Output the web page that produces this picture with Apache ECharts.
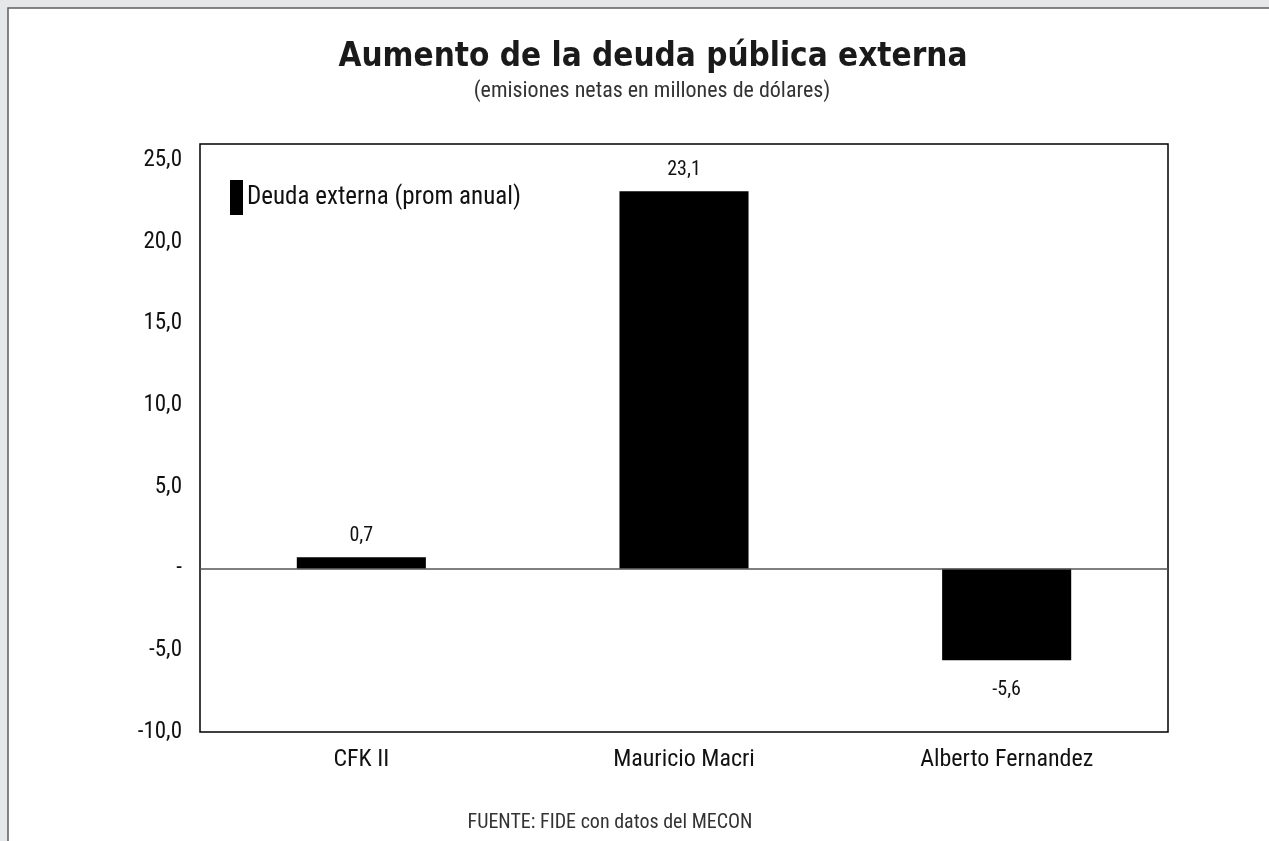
<!DOCTYPE html>
<html>
<head>
<meta charset="utf-8">
<script src="https://cdn.jsdelivr.net/npm/echarts@6/dist/echarts.min.js"></script>
<style>
  html, body { margin: 0; padding: 0; background: #e6e7e8; }
  #chart { width: 1269px; height: 841px; }
</style>
</head>
<body>
<div id="chart"></div>
<script>
// Aumento de la deuda pública externa, promedio anual por gestión
const categories = ['CFK II', 'Mauricio Macri', 'Alberto Fernandez'];
const values = [0.7, 23.1, -5.6];
const seriesName = 'Deuda externa (prom anual)';
const yMin = -10;
const yMax = 26;
const yStep = 5;

const NARROW = '"Liberation Sans Narrow", "Arial Narrow", "Roboto Condensed", "Liberation Sans", sans-serif';

function fmt(v) {
  if (v === 0) return '-';
  return v.toFixed(1).replace('.', ',');
}

const chart = echarts.init(document.getElementById('chart'), null, { renderer: 'canvas' });

chart.setOption({
  backgroundColor: '#e6e7e8',
  animation: false,
  graphic: [
    {
      type: 'rect', z: -10, silent: true,
      shape: { x: 8, y: 8, width: 1400, height: 1000 },
      style: { fill: '#ffffff', stroke: '#5e5e5e', lineWidth: 1.5 }
    },
    {
      type: 'text', x: 653, y: 57,
      style: {
        text: 'Aumento de la deuda pública externa',
        font: '900 33px "DejaVu Sans Condensed", "Roboto Condensed", sans-serif',
        fill: '#1a1a1a', align: 'center', verticalAlign: 'middle'
      }
    },
    {
      type: 'text', x: 652, y: 91,
      style: {
        text: '(emisiones netas en millones de dólares)',
        font: '22px ' + NARROW,
        fill: '#333333', align: 'center', verticalAlign: 'middle'
      }
    },
    {
      type: 'text', x: 610, y: 823,
      style: {
        text: 'FUENTE: FIDE con datos del MECON',
        font: '20px ' + NARROW,
        fill: '#333333', align: 'center', verticalAlign: 'middle'
      }
    }
  ],
  legend: {
    left: 225,
    top: 175,
    icon: 'rect',
    itemWidth: 13,
    itemHeight: 35,
    itemGap: 4,
    data: [seriesName],
    textStyle: { fontFamily: NARROW, fontSize: 25, color: '#111111', padding: [0, 0, 0, -1] }
  },
  grid: {
    left: 200, right: 101, top: 144, bottom: 109,
    show: true,
    borderColor: '#000000',
    borderWidth: 1.5,
    backgroundColor: 'transparent'
  },
  xAxis: {
    type: 'category',
    data: categories,
    axisLine: { show: false, onZero: false },
    axisTick: { show: false },
    axisLabel: { fontFamily: NARROW, fontSize: 24, color: '#111111', margin: 16 }
  },
  yAxis: {
    type: 'value',
    min: yMin,
    max: yMax,
    interval: yStep,
    axisLine: { show: false },
    axisTick: { show: false },
    splitLine: { show: false },
    axisLabel: {
      fontFamily: NARROW, fontSize: 23, color: '#111111', margin: 18,
      formatter: v => (v % yStep === 0 ? fmt(v) : '')
    }
  },
  series: [{
    name: seriesName,
    type: 'bar',
    barWidth: '40%',
    itemStyle: { color: '#000000' },
    data: values.map(v => ({
      value: v,
      label: {
        show: true,
        position: v >= 0 ? 'top' : 'bottom',
        distance: v >= 0 ? 11 : 20,
        fontFamily: NARROW, fontSize: 20, color: '#111111',
        formatter: p => fmt(p.value)
      }
    })),
    markLine: {
      silent: true,
      symbol: 'none',
      label: { show: false },
      lineStyle: { color: '#555555', type: 'solid', width: 1.5 },
      data: [{ yAxis: 0 }]
    }
  }]
});
</script>
</body>
</html>
